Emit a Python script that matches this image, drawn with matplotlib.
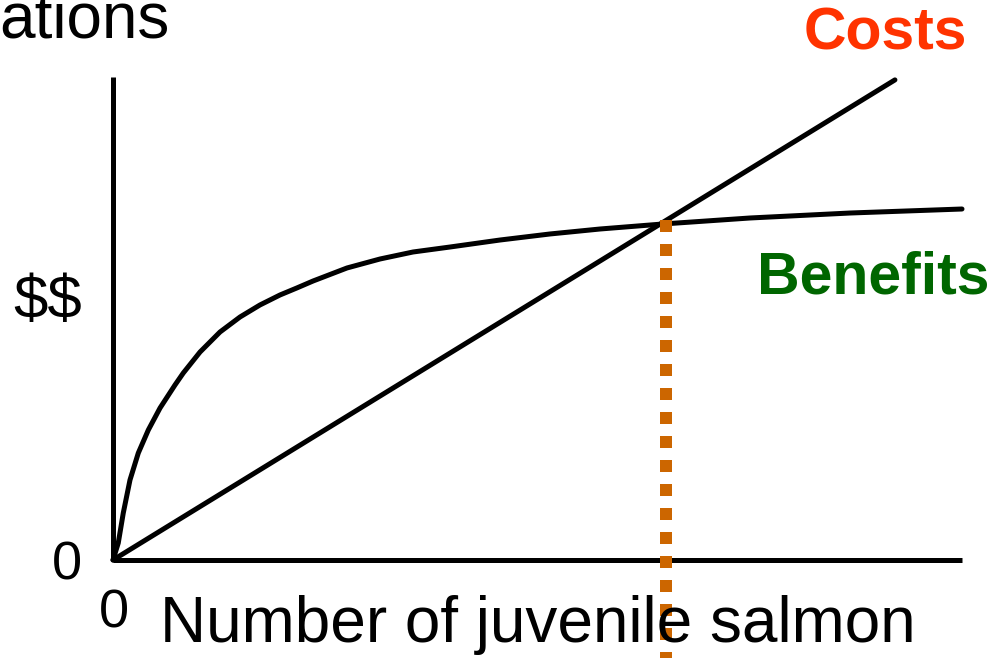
import matplotlib
matplotlib.use("Agg")
import matplotlib.pyplot as plt

plt.rcParams['font.family'] = ['Liberation Sans', 'DejaVu Sans']

# Data (arbitrary units: x = number of juvenile salmon, y = $$)
costs_x = [0, 92.1]
costs_y = [0, 99.4]

benefits_x = [0, 0.62, 1.21, 2.00, 2.98, 4.16, 5.54, 7.30, 8.28, 10.25, 12.60,
              14.96, 17.31, 19.67, 21.64, 23.56, 27.56, 31.45, 35.34, 39.69,
              45.58, 51.47, 57.36, 64.78, 75.03, 86.81, 100.0]
benefits_y = [0, 3.52, 9.73, 16.56, 22.15, 26.92, 31.47, 36.23, 38.72, 43.06, 47.20,
              50.31, 52.80, 54.87, 56.31, 57.76, 60.46, 62.32, 63.77, 64.80,
              66.25, 67.50, 68.53, 69.57, 70.81, 71.84, 72.67]

optimum_x = 65.1
optimum_top = 70.4
optimum_bottom = -20.3

W, H = 990, 658
fig = plt.figure(figsize=(W / 100, H / 100), dpi=100)
ax = fig.add_axes([113 / W, (H - 560) / H, (962 - 113) / W, (560 - 77) / H])
ax.set_xlim(0, 100)
ax.set_ylim(0, 100)
ax.axis('off')

lw_axis = 3.6
ax.plot([0, 0], [0, 100], color='black', lw=lw_axis, solid_capstyle='butt', clip_on=False)
ax.plot([0, 100], [0, 0], color='black', lw=lw_axis, solid_capstyle='butt', clip_on=False)

ax.plot(costs_x, costs_y, color='black', lw=3.6, solid_capstyle='round', clip_on=False)
ax.plot(benefits_x, benefits_y, color='black', lw=3.6, solid_capstyle='round',
        solid_joinstyle='round', clip_on=False)

ax.plot([optimum_x, optimum_x], [optimum_top, optimum_bottom], color='#CC6600',
        lw=8.64, linestyle=(0, (1, 1)), dash_capstyle='butt', clip_on=False, zorder=10)

def fx(px):
    return px / W

def fy(py):
    return (H - py) / H

fig.text(fx(169), fy(37), 'ations', fontsize=46, ha='right', va='baseline')
fig.text(fx(48), fy(302), r'\$\$', fontsize=44.5, ha='center', va='center')
fig.text(fx(67), fy(580), '0', fontsize=39, ha='center', va='baseline')
fig.text(fx(114), fy(628), '0', fontsize=39, ha='center', va='baseline')
fig.text(fx(538), fy(642), 'Number of juvenile salmon', fontsize=46, ha='center', va='baseline')
fig.text(fx(885), fy(50), 'Costs', fontsize=42.5, ha='center', va='baseline',
         color='#FF3300', fontweight='bold')
fig.text(fx(757), fy(293), 'Benefits', fontsize=42.5, ha='left', va='baseline',
         color='#006600', fontweight='bold')

fig.savefig('out.png', dpi=100)
